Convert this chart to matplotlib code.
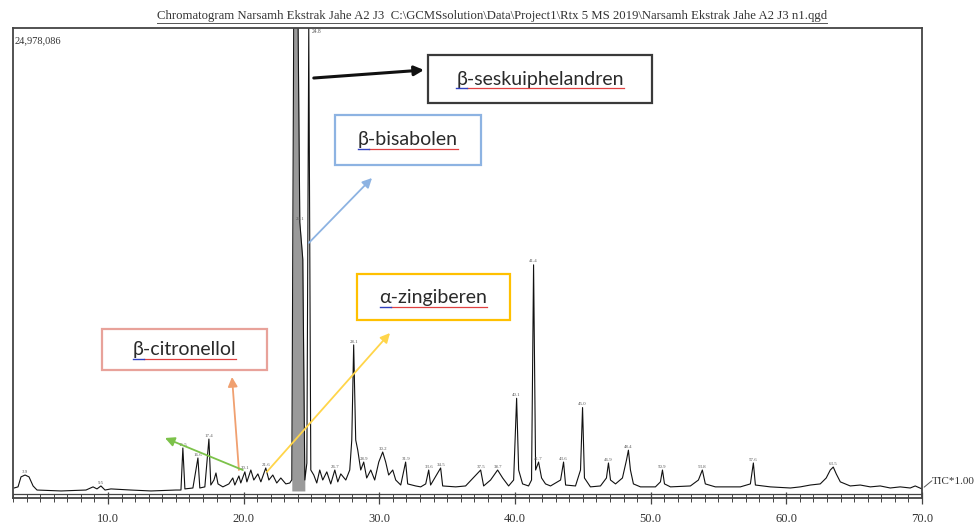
import matplotlib
matplotlib.use("Agg")
import matplotlib.pyplot as plt
import matplotlib.ticker as ticker
from matplotlib.patches import Rectangle
from matplotlib.lines import Line2D

# ===========================
# DATA (retention time in min, intensity in millions of counts)
# ===========================
trace_rt = [
    3.08, 3.37, 3.59, 3.89, 4.18, 4.48, 4.77, 6.54, 8.38, 8.90, 9.19, 9.48, 9.78,
    10.22, 11.69, 13.17, 15.01, 15.38, 15.52, 15.67, 16.26, 16.63, 16.77, 17.14,
    17.44, 17.58, 17.81, 17.96, 18.11, 18.47, 18.91, 19.20, 19.35, 19.65, 19.79,
    20.09, 20.24, 20.53, 20.75, 21.05, 21.27, 21.63, 21.86, 22.15, 22.44, 22.74,
    23.11, 23.40, 23.55, 23.70, 23.99, 24.14, 24.36, 24.51, 24.66, 24.80, 24.95,
    25.17, 25.39, 25.61, 25.83, 26.13, 26.42, 26.72, 26.94, 27.16, 27.53, 27.82,
    27.97, 28.11, 28.26, 28.41, 28.63, 28.85, 29.07, 29.37, 29.66, 29.96, 30.25,
    30.47, 30.69, 30.99, 31.21, 31.58, 31.94, 32.09, 32.68, 33.05, 33.42, 33.64,
    33.78, 34.52, 34.67, 35.63, 36.36, 37.47, 37.69, 38.20, 38.72, 39.09, 39.53,
    39.90, 40.12, 40.27, 40.56, 41.00, 41.22, 41.37, 41.52, 41.74, 41.96, 42.25,
    42.62, 43.36, 43.58, 43.73, 44.46, 44.83, 44.98, 45.12, 45.56, 46.30, 46.74,
    46.89, 47.04, 47.41, 47.92, 48.22, 48.36, 48.51, 48.73, 49.25, 50.35, 50.72,
    50.87, 51.02, 51.46, 52.93, 53.52, 53.81, 54.03, 54.77, 56.61, 57.35, 57.57,
    57.72, 58.82, 60.30, 61.03, 61.77, 62.50, 62.94, 63.24, 63.46, 63.68, 63.98,
    64.35, 64.71, 65.45, 66.19, 66.92, 67.66, 68.39, 69.13, 69.50, 70.00,
]
trace_int = [
    0.16, 0.22, 0.76, 0.86, 0.76, 0.27, 0.05, 0.00, 0.05, 0.22, 0.11, 0.27, 0.05,
    0.11, 0.05, 0.00, 0.05, 0.05, 2.32, 0.11, 0.16, 1.78, 0.16, 0.22,
    2.80, 0.32, 0.59, 0.97, 0.38, 0.22, 0.38, 0.70, 0.32, 0.81, 0.43,
    1.03, 0.49, 1.13, 0.59, 0.92, 0.49, 1.24, 0.59, 0.86, 0.43, 0.70,
    0.38, 0.43, 0.60, 27.0, 27.0, 14.50, 12.50, 0.59, 1.50, 24.98, 1.13,
    0.86, 0.43, 1.13, 0.59, 1.03, 0.38, 1.13, 0.49, 0.92, 0.59, 1.13,
    2.75, 7.88, 2.75, 2.21, 1.13, 1.56, 0.70, 1.13, 0.59, 1.56, 2.10,
    1.56, 0.86, 1.13, 0.59, 0.32, 1.56, 0.38, 0.27, 0.22, 0.38, 1.13,
    0.32, 1.24, 0.27, 0.22, 0.27, 1.13, 0.27, 0.59, 1.13, 0.70, 0.27,
    0.59, 5.00, 1.13, 0.38, 0.27, 0.59, 12.20, 1.13, 1.56, 0.70, 0.38,
    0.27, 0.59, 1.56, 0.32, 0.27, 1.13, 4.50, 0.70, 0.22, 0.27, 0.70,
    1.51, 0.59, 0.38, 0.70, 1.67, 2.20, 1.13, 0.38, 0.22, 0.22, 0.49,
    1.13, 0.38, 0.22, 0.27, 0.59, 1.13, 0.38, 0.22, 0.22, 0.38, 1.51,
    0.32, 0.22, 0.16, 0.22, 0.32, 0.38, 0.70, 1.13, 1.29, 0.92, 0.49,
    0.38, 0.27, 0.32, 0.22, 0.27, 0.16, 0.22, 0.16, 0.27, 0.11,
]

# peaks that carry a small retention-time label
label_rt = [3.89, 9.48, 15.52, 16.63, 17.44, 20.09, 21.63, 24.14, 24.80,
            26.72, 28.11, 28.85, 30.25, 31.94, 33.64, 34.52, 37.47, 38.72, 40.12,
            41.37, 41.74, 43.58, 44.98, 46.89, 48.36, 50.87, 53.81, 57.57, 63.46]

# the wide, overloaded main peak (drawn with a grey body)
main_peak_span = (23.55, 24.51)

max_intensity = 24978086
xtick_vals = [10, 20, 30, 40, 50, 60, 70]
xtick_labels = ["10.0", "20.0", "30.0", "40.0", "50.0", "60.0", "70.0"]

title_txt = (r"Chromatogram Narsamh Ekstrak Jahe A2 J3  C:\GCMSsolution\Data\Project1"
             r"\Rtx 5 MS 2019\Narsamh Ekstrak Jahe A2 J3 n1.qgd")

# compound callouts: name, peak (rt, intensity), box colour, arrow colour
compounds = ["β-seskuiphelandren", "β-bisabolen", "α-zingiberen", "β-citronellol"]
comp_box_color = ["#3a3a3a", "#8db3e2", "#ffc000", "#e8a29a"]
comp_arrow_color = ["#111111", "#8db3e2", "#ffd54a", "#f0a070"]
comp_peak = [(25.17, 22.28), (24.80, 13.38), (21.71, 1.03), (19.65, 1.13)]

# ===========================
# FIGURE
# ===========================
W, H = 980, 529
fig = plt.figure(figsize=(W / 100, H / 100), dpi=100)


def fx(px):
    return px / W


def fy(py):
    return 1 - py / H


ax = fig.add_axes([fx(13), fy(498), fx(922) - fx(13), fy(28) - fy(498)])

# grey body of the overloaded peak
i0 = trace_rt.index(main_peak_span[0])
i1 = trace_rt.index(main_peak_span[1])
ax.fill_between(trace_rt[i0:i1 + 1], 0, trace_int[i0:i1 + 1], color="#9a9a9a", lw=0)

ax.plot(trace_rt, trace_int, color="#111111", lw=0.8)
ax.set_xlim(3.0, 70.0)
ax.set_ylim(-0.38, max_intensity / 1e6)

# inner base line just above the frame
ax.axhline(-0.16, color="#444444", lw=0.9)

for s in ax.spines.values():
    s.set_color("#444444")
    s.set_linewidth(1.3)

ax.set_xticks(xtick_vals)
ax.set_xticklabels(xtick_labels, family="Liberation Serif", fontsize=9, color="#333")
ax.xaxis.set_minor_locator(ticker.MultipleLocator(1))
ax.tick_params(axis="x", which="major", direction="inout", length=9, width=0.9, color="#444", pad=6)
ax.tick_params(axis="x", which="minor", direction="inout", length=6, width=0.7, color="#444")
ax.set_yticks([])

# small peak labels
for rt in label_rt:
    h = trace_int[trace_rt.index(rt)]
    if h >= max_intensity / 1e6 * 0.99:
        ax.annotate(f"{rt:.1f}", (rt, max_intensity / 1e6), xytext=(2, -1),
                    textcoords="offset points", ha="left", va="top",
                    fontsize=4, color="#555", family="Liberation Serif")
    else:
        ax.annotate(f"{rt:.1f}", (rt, h), xytext=(0, 1), textcoords="offset points",
                    ha="center", va="bottom", fontsize=3.5, color="#555",
                    family="Liberation Serif")

ax.text(0.002, 0.982, "24,978,086", transform=ax.transAxes, ha="left", va="top",
        fontsize=7.5, family="Liberation Serif", color="#333")

# title (underlined)
title = fig.text(fx(492), fy(16), title_txt, ha="center", va="center",
                 fontsize=9.2, family="Liberation Serif", color="#333")

# TIC label with leader
fig.text(fx(932), fy(482), "TIC*1.00", ha="left", va="center",
         fontsize=8, family="Liberation Serif", color="#333")
ax.annotate("", xy=(fx(934), fy(479)), xycoords="figure fraction",
            xytext=(70.0, 0.11), textcoords="data",
            arrowprops=dict(arrowstyle="-", color="#555", lw=0.7),
            annotation_clip=False)

# ===========================
# Callout boxes + arrows
# ===========================
box_px = [(428, 55, 224, 48), (335, 115, 146, 50), (357, 274, 153, 46), (102, 329, 165, 41)]
head_px = [(424, 70), (372, 178), (390, 333), (232, 377)]

texts = []
for name, (bx, by, bw, bh), ec, ac, peak, head in zip(
        compounds, box_px, comp_box_color, comp_arrow_color, comp_peak, head_px):
    fig.patches.append(Rectangle((fx(bx), fy(by + bh)), bw / W, bh / H,
                                 transform=fig.transFigure, fill=True,
                                 facecolor="white", edgecolor=ec, lw=1.6, zorder=3))
    t = fig.text(fx(bx + bw / 2), fy(by + bh / 2), name, ha="center", va="center",
                 fontsize=14, family="Lato", color="#2a2a2a", zorder=4)
    texts.append(t)
    ax.annotate("", xy=(fx(head[0]), fy(head[1])), xycoords="figure fraction",
                xytext=peak, textcoords="data",
                arrowprops=dict(arrowstyle="-|>", color=ac,
                                lw=2.2 if ac == "#111111" else 1.3,
                                mutation_scale=14, shrinkA=0, shrinkB=0),
                annotation_clip=False)

# green arrow (no box)
ax.annotate("", xy=(fx(165), fy(438)), xycoords="figure fraction",
            xytext=(19.94, 1.13), textcoords="data",
            arrowprops=dict(arrowstyle="-|>", color="#7cc24a", lw=1.3,
                            mutation_scale=14, shrinkA=0, shrinkB=0),
            annotation_clip=False)

# underlines (spell-check style) under callout texts and title
fig.canvas.draw()
renderer = fig.canvas.get_renderer()
for t in texts:
    bb = t.get_window_extent(renderer)
    y = fy(H - bb.y0 + 1)
    x0, x1 = bb.x0 / W, bb.x1 / W
    fig.add_artist(Line2D([x0 + 11 / W, x1], [y, y], color="#e04040", lw=0.9, zorder=5))
    fig.add_artist(Line2D([x0, x0 + 11 / W], [y, y], color="#3040c0", lw=1.0, zorder=5))
bb = title.get_window_extent(renderer)
fig.add_artist(Line2D([bb.x0 / W, bb.x1 / W], [bb.y0 / H - 1 / H] * 2, color="#555", lw=0.7))

fig.savefig("out.png", dpi=100)
